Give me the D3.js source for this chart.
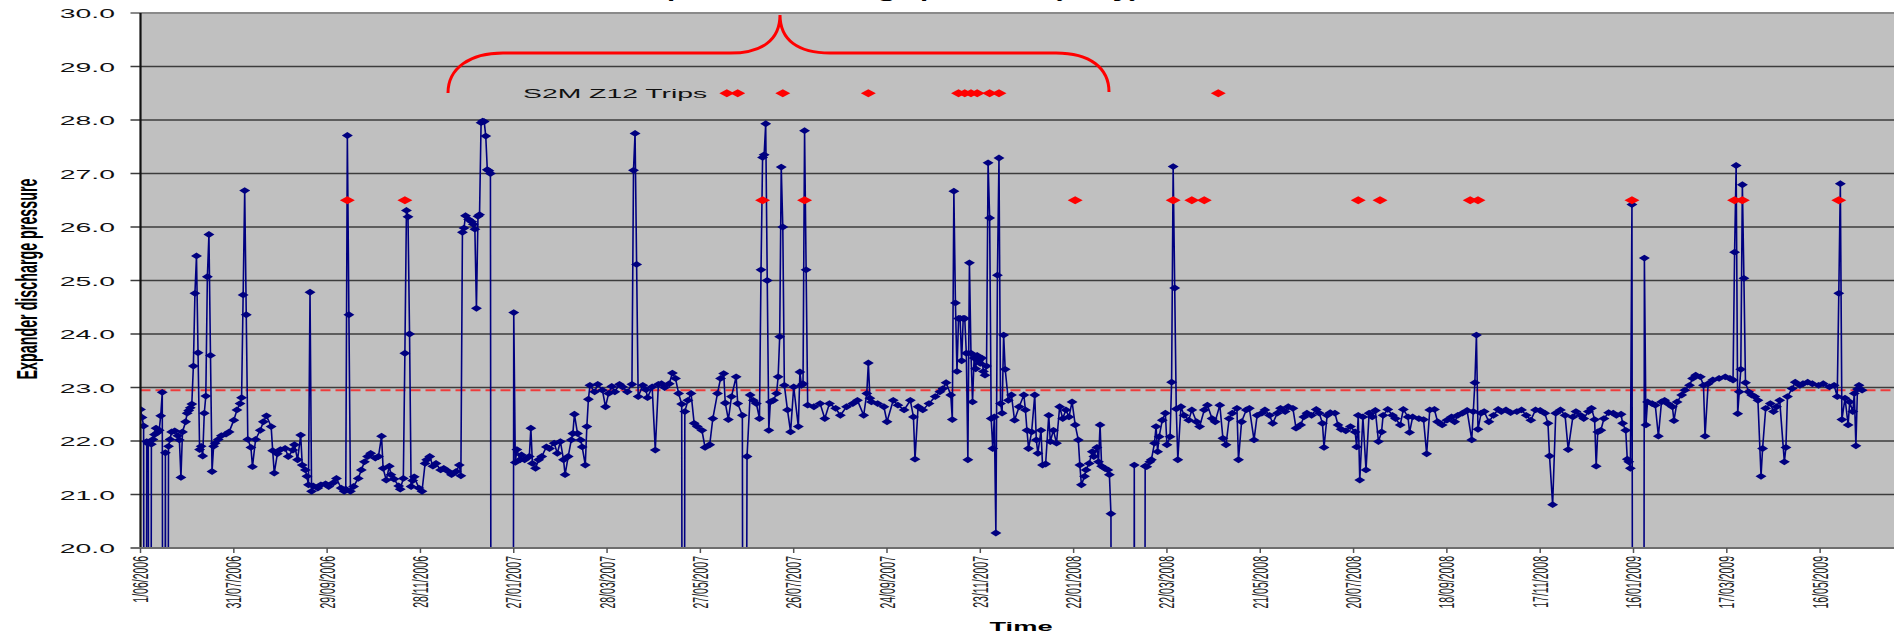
<!DOCTYPE html>
<html>
<head>
<meta charset="utf-8">
<script src="https://cdn.jsdelivr.net/npm/d3@7/dist/d3.min.js"></script>
<style>
  body { margin: 0; background: #fff; }
  svg { display: block; }
</style>
</head>
<body>
<svg id="chart" width="1894" height="634"></svg>
<script>
// day offsets are counted from 1/06/2006
const startDate = new Date(2006, 5, 1);

const pressure2006 = [
    [0,22.59],[1,22.44],[2,22.28],[3,0],[4,21.99],[5,21.95],[6,0],[7,21.94],[8,22.03],[9,22.12],[10,22.24],
    [11,22.16],[12,22.2],[13,22.47],[14,22.91],[15,0],[16,21.78],[17,0],[18,21.9],[19,22.03],[20,22.17],
    [22,22.19],[24,22.1],[25,22.02],[26,21.32],[27,22.17],[29,22.36],[30,22.52],[31,22.57],[32,22.62],
    [33,22.69],[34,23.4],[35,24.76],[36,25.46],[37,23.65],[38,21.84],[39,21.9],[40,21.72],[41,22.52],
    [42,22.84],[43,25.07],[44,25.86],[45,23.6],[46,21.43],[47,21.9],[48,21.96],[50,22.03],[52,22.1],
    [55,22.13],[57,22.17],[60,22.39],[62,22.58],[64,22.7],[65,22.81],[66,24.73],[67,26.68],[68,24.36],
    [69,22.03],[71,21.88],[72,21.52],[74,22.03],[77,22.2],[79,22.36],[81,22.47],[84,22.27],[85,21.82],
    [86,21.4],[88,21.76],[90,21.84],[93,21.86],[95,21.71],[98,21.83],[99,21.93],[101,21.65],[103,22.11],
    [104,21.55],[106,21.46],[107,21.34],[108,21.18],[109,24.78],[110,21.06],[111,21.16],[114,21.12],
    [116,21.18],[119,21.2],[121,21.15],[124,21.22],[126,21.3],[129,21.12],[131,21.06],[132,21.1],
    [133,27.71],[134,24.36],[135,21.06],[137,21.15],[140,21.3],[142,21.46],[144,21.61],[146,21.71],
    [148,21.77],[151,21.68],[153,21.71],[155,22.09],[156,21.49],[158,21.27],[160,21.53],[161,21.37],
    [163,21.29],[166,21.16],[167,21.1],[169,21.3],[170,23.64],[171,26.31],[172,26.19],[173,24.0],
    [174,21.15],[175,21.26],[176,21.33],[179,21.12],[181,21.06],[183,21.58],[184,21.65],[186,21.71],
    [188,21.53],[190,21.58],[193,21.46],[195,21.49],[198,21.43],[200,21.37],[203,21.43],[205,21.55],
    [206,21.35],[207,25.9],[208,25.98],[209,26.21],[211,26.14],[213,26.1]
];

const pressure2007 = [
    [214,26.05],[215,25.96],[216,24.48],[217,26.2],[218,26.23],[219,27.95],[220,27.98],[221,27.97],
    [222,27.7],[223,27.07],[224,27.05],[225,27.0],[226,0],[239,0],[240,24.4],[241,21.6],[242,21.84],
    [244,21.65],[245,21.74],[247,21.65],[250,21.71],[251,22.24],[252,21.58],[254,21.49],[256,21.65],
    [258,21.71],[261,21.89],[263,21.86],[266,21.96],[268,21.77],[270,21.99],[272,21.65],[273,21.37],
    [275,21.71],[277,22.02],[278,22.14],[279,22.5],[281,22.14],[283,22.02],[284,21.89],[286,21.55],
    [287,22.27],[288,22.78],[289,23.04],[292,22.92],[294,23.06],[297,22.95],[299,22.64],[301,22.89],
    [303,23.02],[305,22.92],[308,23.06],[310,23.01],[313,22.92],[316,23.06],[317,27.06],[318,27.75],
    [319,25.3],[320,22.83],[323,23.04],[325,22.96],[326,22.81],[329,23.01],[331,21.83],[333,23.06],
    [335,23.07],[337,23.0],[340,23.07],[342,23.27],[344,23.17],[346,22.89],[348,22.69],[349,0],
    [350,22.55],[352,22.76],[354,22.89],[356,22.33],[358,22.27],[361,22.2],[363,21.88],[366,21.93],
    [368,22.42],[371,22.89],[373,23.17],[375,23.26],[376,22.71],[378,22.4],[380,22.83],[383,23.2],
    [384,22.7],[387,22.48],[388,0],[390,21.71],[392,22.86],[394,22.76],[396,22.7],[398,22.42],
    [399,25.2],[400,27.3],[401,27.35],[402,27.93],[403,25.0],[404,22.2],[405,22.73],[407,22.76],
    [409,22.89],[410,23.2],[411,23.95],[412,27.12],[413,26.0],[414,23.04],[416,22.58],[418,22.17],
    [420,23.01],[423,22.27],[424,23.29],[425,23.04],[426,23.07],[427,27.8],[428,25.2],[429,22.67],
    [433,22.64],[437,22.7],[440,22.42],[443,22.7],[447,22.61],[450,22.48],[454,22.64],[458,22.7],
    [461,22.76],[465,22.48],[467,22.89],[468,23.46],[469,22.8],[470,22.73],[474,22.7],[478,22.64],
    [480,22.36],[484,22.76],[487,22.67],[491,22.58],[495,22.76],[497,22.45],[498,21.66],[500,22.64],
    [503,22.58],[507,22.7],[511,22.83],[514,22.92],[516,22.98],[518,23.09],[521,22.86],[522,22.4],
    [523,26.67],[524,24.58],[525,23.3],[526,24.29],[527,24.29],[528,23.5],[529,24.29],[530,24.29],
    [531,23.64],[532,21.65],[533,25.33],[534,23.64],[535,22.73],[536,23.55],[537,23.35],[538,23.6],
    [539,23.5],[540,23.45],[541,23.55],[542,23.3],[543,23.23],[544,23.4],[545,27.2],[546,26.17],
    [547,22.42],[548,21.86],[549,22.45],[550,20.28],[551,25.1],[552,27.29],[553,22.7],[554,22.52],
    [555,23.98],[556,23.34],[558,22.76],[560,22.86],[562,22.39],[565,22.64],[568,22.86],[569,22.58],
    [570,22.2],[571,21.86],[573,22.17],[575,22.86],[576,22.02],[577,21.77]
];

const pressure2008 = [
    [579,22.2],[580,21.55],[582,21.57],[584,22.48],[585,21.99],[587,22.2],[589,21.96],[591,22.64],
    [593,22.42],[595,22.58],[597,22.45],[599,22.73],[601,22.3],[603,22.02],[604,21.55],[605,21.18],
    [607,21.34],[608,21.46],[610,21.58],[612,21.8],[613,21.71],[615,21.88],[616,21.61],[617,22.3],
    [618,21.53],[620,21.49],[622,21.46],[623,21.37],[624,20.64],[625,0],[638,0],[639,21.55],[640,0],
    [645,0],[646,21.53],[647,21.52],[649,21.61],[650,21.65],[652,21.96],[653,22.27],[654,21.8],
    [655,22.08],[657,22.39],[659,22.52],[660,21.93],[662,22.08],[663,23.1],[664,27.13],[665,24.86],
    [666,22.6],[667,21.65],[669,22.64],[671,22.48],[674,22.39],[676,22.58],[679,22.36],[681,22.27],
    [684,22.58],[686,22.67],[689,22.42],[691,22.36],[694,22.67],[696,22.05],[698,21.93],[700,22.42],
    [702,22.52],[705,22.61],[706,21.65],[708,22.36],[711,22.58],[713,22.61],[716,22.02],[718,22.48],
    [721,22.52],[723,22.58],[726,22.48],[728,22.33],[731,22.52],[733,22.61],[736,22.55],[738,22.64],
    [741,22.61],[743,22.24],[746,22.3],[748,22.45],[750,22.52],[753,22.48],[756,22.59],[758,22.52],
    [760,22.33],[761,21.88],[763,22.48],[765,22.53],[768,22.52],[770,22.3],[772,22.22],[775,22.19],
    [778,22.27],[781,22.17],[782,21.89],[783,22.48],[784,21.27],[786,22.45],[788,21.46],[790,22.52],
    [792,22.45],[794,22.57],[796,21.99],[798,22.17],[799,22.48],[802,22.59],[805,22.48],[807,22.42],
    [810,22.3],[812,22.59],[815,22.45],[816,22.16],[818,22.45],[822,22.42],[825,22.4],[827,21.76],
    [829,22.58],[832,22.59],[834,22.36],[837,22.3],[840,22.39],[843,22.45],[845,22.36],[847,22.48],
    [850,22.52],[853,22.57],[856,22.02],[857,22.55],[858,23.09],[859,23.98],[860,22.22],[862,22.52],
    [864,22.55],[867,22.36],[870,22.48],[873,22.59],[875,22.55],[878,22.58],[881,22.53],[885,22.55],
    [888,22.58],[891,22.48],[894,22.39],[897,22.58],[900,22.57],[903,22.52],[905,22.33],[906,21.72],
    [908,20.81],[910,22.52],[913,22.58],[916,22.48],[918,21.84],[921,22.45],[923,22.55],[926,22.48],
    [928,22.42],[931,22.55],[933,22.61],[935,22.4],[936,21.53],[937,22.17],[939,22.2],[941,22.42],
    [944,22.53]
];

const pressure2009 = [
    [947,22.52],[949,22.48],[952,22.5],[953,22.33],[955,22.2],[956,21.66],[957,21.61],[958,21.49],
    [959,26.42],[960,0],[966,0],[967,25.42],[968,22.3],[969,22.73],[972,22.7],[974,22.67],[976,22.09],
    [978,22.73],[980,22.76],[982,22.7],[985,22.64],[986,22.38],[988,22.73],[991,22.86],[993,22.95],
    [996,23.04],[998,23.17],[1000,23.23],[1003,23.2],[1005,23.04],[1006,22.09],[1008,23.07],[1011,23.14],
    [1015,23.17],[1019,23.2],[1022,23.17],[1024,23.14],[1025,25.53],[1026,27.15],[1027,22.51],
    [1028,22.92],[1029,23.34],[1030,26.79],[1031,25.04],[1032,23.09],[1034,22.92],[1036,22.86],
    [1038,22.83],[1040,22.76],[1042,21.34],[1043,21.86],[1045,22.61],[1048,22.7],[1050,22.55],
    [1052,22.64],[1054,22.76],[1057,21.61],[1058,21.88],[1059,22.83],[1062,22.98],[1064,23.1],
    [1067,23.04],[1069,23.07],[1072,23.1],[1075,23.07],[1079,23.04],[1082,23.07],[1086,23.01],
    [1089,23.04],[1091,22.83],[1092,24.76],[1093,26.81],[1094,22.4],[1096,22.8],[1098,22.3],
    [1099,22.73],[1101,22.55],[1102,22.89],[1103,21.91],[1104,22.97],[1105,23.04],[1107,22.95]
];

// trip events, shown as red diamonds on two levels
const s2mZ12TripDays = [377, 384, 413, 468, 526, 530, 534, 538, 546, 552, 693];
const otherTripDays = [133, 170, 400, 427, 601, 664, 676, 684, 783, 797, 855, 860, 959, 1025, 1030, 1092];
const s2mZ12TripLevel = 28.5;
const otherTripLevel = 26.5;
const targetPressure = 22.95;

const yTickValues = [20, 21, 22, 23, 24, 25, 26, 27, 28, 29, 30];
const xTickDays = [0, 60, 120, 180, 240, 300, 360, 420, 480, 540, 600, 660, 720, 780, 840, 900, 960, 1020, 1080];
const lastVisibleDay = 1127.5;

const yTitle = "Expander discharge pressure";
const xTitle = "Time";
const tripLabel = "S2M Z12 Trips";
const chartTitle = "Expander discharge pressure (daily)";

const dayToDate = d => new Date(startDate.getTime() + d * 864e5);

const svg = d3.select("#chart");
const SX = 2.1; // the original picture is stretched sideways
const FONT = "'Liberation Sans', Arial, sans-serif";

const plot = {left: 140.5, right: 1894, top: 13, bottom: 548};

const x = d3.scaleTime()
    .domain([startDate, dayToDate(lastVisibleDay)])
    .range([plot.left, plot.right]);

const y = d3.scaleLinear()
    .domain([20, 30])
    .range([plot.bottom, plot.top]);

svg.append("rect")
    .attr("x", plot.left)
    .attr("y", plot.top)
    .attr("width", plot.right - plot.left)
    .attr("height", plot.bottom - plot.top)
    .attr("fill", "#c0c0c0");

svg.append("defs").append("clipPath")
    .attr("id", "plotClip")
    .append("rect")
    .attr("x", plot.left)
    .attr("y", plot.top)
    .attr("width", plot.right - plot.left)
    .attr("height", plot.bottom - plot.top);

// horizontal grid
svg.append("g")
    .selectAll("line")
    .data(yTickValues.filter(v => v > 20 && v < 30))
    .join("line")
    .attr("x1", plot.left - 10)
    .attr("x2", plot.right)
    .attr("y1", d => y(d))
    .attr("y2", d => y(d))
    .attr("stroke", "#3c3c3c")
    .attr("stroke-width", 1.6);

svg.append("line")
    .attr("x1", plot.left - 10).attr("x2", plot.right)
    .attr("y1", y(30)).attr("y2", y(30))
    .attr("stroke", "#8a8a8a").attr("stroke-width", 2);

svg.append("line")
    .attr("x1", plot.left).attr("x2", plot.right)
    .attr("y1", y(targetPressure)).attr("y2", y(targetPressure))
    .attr("stroke", "#ee3c3c")
    .attr("stroke-width", 2)
    .attr("stroke-dasharray", "10,5");

const pressure = [...pressure2006, ...pressure2007, ...pressure2008, ...pressure2009]
    .map(([d, v]) => ({date: dayToDate(d), value: v}));

const line = d3.line()
    .x(d => x(d.date))
    .y(d => y(d.value));

const series = svg.append("g").attr("clip-path", "url(#plotClip)");

series.append("path")
    .datum(pressure)
    .attr("fill", "none")
    .attr("stroke", "#000080")
    .attr("stroke-width", 1.6)
    .attr("d", line);

const diamond = (w, h) => `M0,${-h}L${w},0L0,${h}L${-w},0Z`;

series.append("g")
    .selectAll("path")
    .data(pressure.filter(d => d.value >= 20))
    .join("path")
    .attr("transform", d => `translate(${x(d.date)},${y(d.value)})`)
    .attr("d", diamond(5.5, 3.4))
    .attr("fill", "#000080");

const trips = [
    ...s2mZ12TripDays.map(d => ({date: dayToDate(d), value: s2mZ12TripLevel})),
    ...otherTripDays.map(d => ({date: dayToDate(d), value: otherTripLevel}))
];

series.append("g")
    .selectAll("path")
    .data(trips)
    .join("path")
    .attr("transform", d => `translate(${x(d.date)},${y(d.value)})`)
    .attr("d", diamond(7.5, 4))
    .attr("fill", "#ff0000");

// curly brace over the S2M Z12 trip period
svg.append("path")
    .attr("d", "M448,93 C448,68 470,53 503,53 L730,53 C762,53 780,40 780,15 C780,40 798,53 830,53 L1056,53 C1090,53 1109,68 1109,92")
    .attr("fill", "none")
    .attr("stroke", "#ff0000")
    .attr("stroke-width", 3);

function stretchedText(px, py, txt, opts = {}) {
    return svg.append("text")
        .attr("transform", `translate(${px},${py}) scale(${SX},1)` + (opts.rotate ? ` rotate(${opts.rotate})` : ""))
        .attr("text-anchor", opts.anchor || "start")
        .attr("font-family", FONT)
        .attr("font-size", opts.size || 12)
        .attr("font-weight", opts.weight || "normal")
        .attr("fill", opts.fill || "#000")
        .text(txt);
}

stretchedText(523, 97.5, tripLabel, {size: 13.5, fill: "#111"});
// the chart title sits almost completely above the picture, only its descenders show
stretchedText(885, -2.5, chartTitle, {size: 14, weight: "bold", anchor: "middle"});

// axes
svg.append("line")
    .attr("x1", plot.left).attr("x2", plot.left)
    .attr("y1", plot.top).attr("y2", plot.bottom)
    .attr("stroke", "#111").attr("stroke-width", 2.2);

svg.append("line")
    .attr("x1", plot.left - 10).attr("x2", plot.right)
    .attr("y1", plot.bottom).attr("y2", plot.bottom)
    .attr("stroke", "#6e6e6e").attr("stroke-width", 2);

yTickValues.forEach(v => {
    stretchedText(115, y(v) + 5, d3.format(".1f")(v), {size: 13.5, anchor: "end", fill: "#111"});
});

svg.append("g")
    .selectAll("line")
    .data(xTickDays)
    .join("line")
    .attr("x1", d => x(dayToDate(d)))
    .attr("x2", d => x(dayToDate(d)))
    .attr("y1", plot.bottom)
    .attr("y2", plot.bottom + 5)
    .attr("stroke", "#555")
    .attr("stroke-width", 1.5);

const tickFormat = d3.timeFormat("%-d/%m/%Y");
xTickDays.forEach(d => {
    const date = dayToDate(d);
    stretchedText(x(date) + 7.5, 556, tickFormat(date), {size: 10.5, anchor: "end", rotate: -90, fill: "#222"});
});

stretchedText(37, 279, yTitle, {size: 14.3, weight: "bold", anchor: "middle", rotate: -90});
stretchedText(1021, 631, xTitle, {size: 13, weight: "bold", anchor: "middle"});
</script>
</body>
</html>
